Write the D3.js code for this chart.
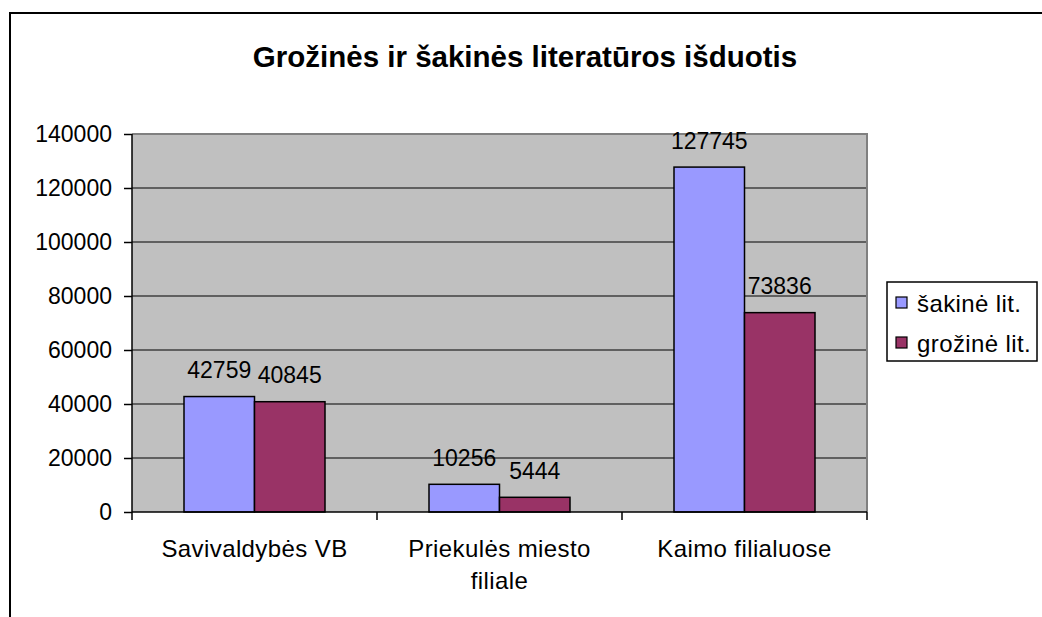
<!DOCTYPE html>
<html>
<head>
<meta charset="utf-8">
<script src="https://cdn.jsdelivr.net/npm/d3@7"></script>
<style>
  html, body { margin: 0; padding: 0; background: #fff; }
  svg { display: block; font-family: "Liberation Sans", Arial, sans-serif; }
</style>
</head>
<body>
<svg id="chart" width="1042" height="617"></svg>
<script>
const title = "Grožinės ir šakinės literatūros išduotis";
const categories = ["Savivaldybės VB", "Priekulės miesto filiale", "Kaimo filialuose"];
const categoryLines = [["Savivaldybės VB"], ["Priekulės miesto", "filiale"], ["Kaimo filialuose"]];
const seriesNames = ["šakinė lit.", "grožinė lit."];
const sakineValues = [42759, 10256, 127745];
const grozineValues = [40845, 5444, 73836];
const seriesColors = ["#9999FF", "#993366"];
const yTicks = [0, 20000, 40000, 60000, 80000, 100000, 120000, 140000];

const svg = d3.select("#chart");
const plot = { left: 132, right: 867, top: 134, bottom: 512 };
const fontSize = 23;
const textSize = 24;
const textSpacing = 0.4;

// outer chart border (extends beyond the visible frame on right/bottom)
svg.append("rect")
  .attr("x", 10).attr("y", 13).attr("width", 1100).attr("height", 700)
  .attr("fill", "none").attr("stroke", "#000").attr("stroke-width", 2);

// title
svg.append("text")
  .attr("x", 525).attr("y", 67)
  .attr("text-anchor", "middle")
  .attr("font-size", 29.5).attr("font-weight", "bold")
  .text(title);

const x0 = d3.scaleBand().domain(categories).range([plot.left, plot.right]).padding(0);
const x1 = d3.scaleBand().domain(seriesNames).range([0, x0.bandwidth()])
  .paddingInner(0).paddingOuter(0.7376);
const y = d3.scaleLinear().domain([0, 140000]).range([plot.bottom, plot.top]);

// plot background
svg.append("rect")
  .attr("x", plot.left).attr("y", plot.top)
  .attr("width", plot.right - plot.left).attr("height", plot.bottom - plot.top)
  .attr("fill", "#C0C0C0");

// gridlines
svg.append("g").selectAll("line")
  .data(yTicks.filter(d => d > 0 && d < 140000))
  .join("line")
  .attr("x1", plot.left).attr("x2", plot.right)
  .attr("y1", d => y(d)).attr("y2", d => y(d))
  .attr("stroke", "#000").attr("stroke-width", 1);

// plot border top/right gray
svg.append("path")
  .attr("d", `M${plot.left},${plot.top}H${plot.right}V${plot.bottom}`)
  .attr("fill", "none").attr("stroke", "#808080").attr("stroke-width", 2);

// bars
const data = categories.map((c, i) => ({ cat: c, vals: [sakineValues[i], grozineValues[i]] }));
const groups = svg.append("g").selectAll("g").data(data).join("g")
  .attr("transform", d => `translate(${x0(d.cat)},0)`);
groups.selectAll("rect")
  .data(d => d.vals.map((v, j) => ({ s: seriesNames[j], v, j })))
  .join("rect")
  .attr("x", d => x1(d.s)).attr("width", x1.bandwidth())
  .attr("y", d => y(d.v)).attr("height", d => y(0) - y(d.v))
  .attr("fill", d => seriesColors[d.j])
  .attr("stroke", "#000").attr("stroke-width", 1.5);
groups.selectAll("text")
  .data(d => d.vals.map((v, j) => ({ s: seriesNames[j], v, j })))
  .join("text")
  .attr("x", d => x1(d.s) + x1.bandwidth() / 2)
  .attr("y", d => y(d.v) - 18.5)
  .attr("text-anchor", "middle")
  .attr("font-size", fontSize)
  .text(d => d.v);

// y axis
const yAxis = d3.axisLeft(y).tickValues(yTicks).tickSize(8).tickPadding(12).tickFormat(d3.format("d"));
const yg = svg.append("g").attr("transform", `translate(${plot.left},0)`).call(yAxis);
yg.select(".domain").attr("stroke", "#000").attr("stroke-width", 1.5).attr("d", `M0,${plot.top}V${plot.bottom}`);
yg.selectAll(".tick line").attr("stroke", "#000").attr("stroke-width", 1.5);
yg.selectAll(".tick text").attr("font-size", fontSize).attr("fill", "#000")
  .attr("font-family", "Liberation Sans, Arial, sans-serif");

// x axis
const xg = svg.append("g").attr("transform", `translate(0,${plot.bottom})`);
xg.append("line").attr("x1", plot.left).attr("x2", plot.right)
  .attr("y1", 0).attr("y2", 0).attr("stroke", "#000").attr("stroke-width", 1.5);
const boundaries = categories.map(c => x0(c)).concat([x0(categories[categories.length - 1]) + x0.bandwidth()]);
xg.selectAll("line.tk").data(boundaries).join("line").attr("class", "tk")
  .attr("x1", d => d).attr("x2", d => d).attr("y1", 0).attr("y2", 8)
  .attr("stroke", "#000").attr("stroke-width", 1.5);
xg.selectAll("text.cl").data(categories).join("text").attr("class", "cl")
  .attr("x", d => x0(d) + x0.bandwidth() / 2)
  .attr("y", 45)
  .attr("text-anchor", "middle")
  .attr("font-size", textSize)
  .attr("letter-spacing", textSpacing)
  .each(function(d, i) {
    d3.select(this).selectAll("tspan").data(categoryLines[i]).join("tspan")
      .attr("x", x0(d) + x0.bandwidth() / 2)
      .attr("dy", (t, k) => k === 0 ? 0 : 32)
      .text(t => t);
  });

// legend
const lg = svg.append("g").attr("transform", "translate(887,282)");
lg.append("rect").attr("width", 150).attr("height", 79)
  .attr("fill", "#fff").attr("stroke", "#000").attr("stroke-width", 1.5);
const items = lg.selectAll("g").data(seriesNames).join("g")
  .attr("transform", (d, i) => `translate(0,${i * 40})`);
items.append("rect").attr("x", 9).attr("y", 15).attr("width", 11).attr("height", 11)
  .attr("fill", (d, i) => seriesColors[i]).attr("stroke", "#000").attr("stroke-width", 1.2);
items.append("text").attr("x", 30).attr("y", 30)
  .attr("font-size", textSize).attr("letter-spacing", textSpacing).text(d => d);
</script>
</body>
</html>
